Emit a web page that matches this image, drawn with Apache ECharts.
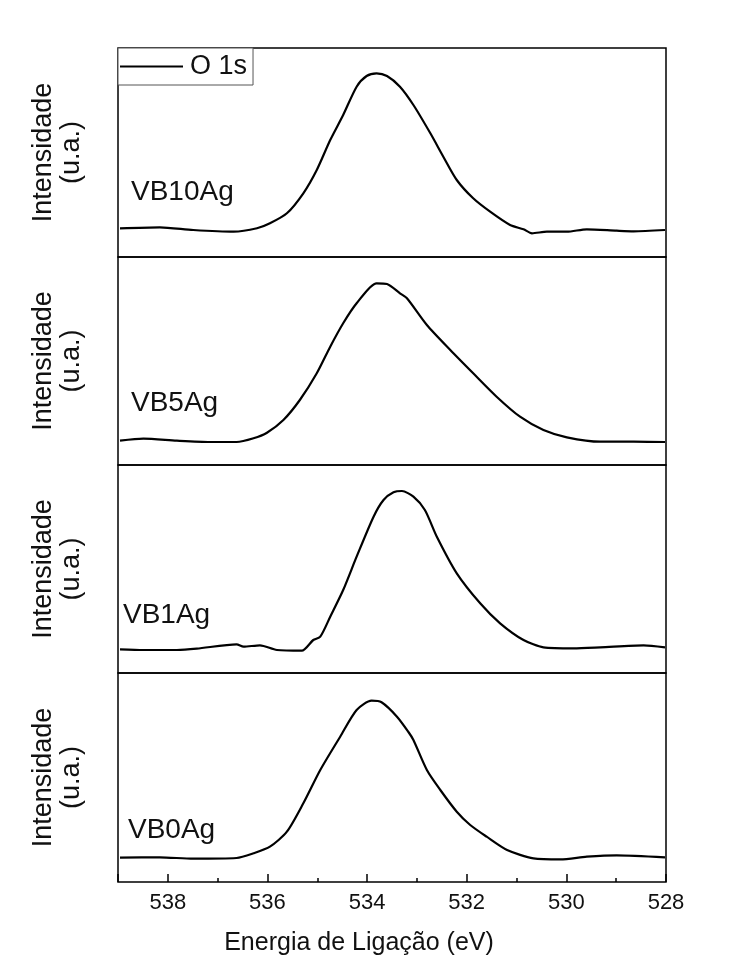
<!DOCTYPE html>
<html>
<head>
<meta charset="utf-8">
<script src="https://cdn.jsdelivr.net/npm/echarts@6/dist/echarts.min.js"></script>
<style>
  html, body { margin: 0; padding: 0; background: #fff; }
  #chart { width: 732px; height: 980px; }
</style>
</head>
<body>
<div id="chart"></div>
<script>
  // binding energy (eV) / intensity (a.u.)
  const vb10Energy = [538.96, 538.16, 537.49, 536.68, 536.21, 535.95, 535.61, 535.28, 535.01, 534.74, 534.48, 534.21, 534.01, 533.81, 533.60, 533.34, 533.07, 532.73, 532.47, 532.20, 531.87, 531.53, 531.13, 530.86, 530.69, 530.39, 529.99, 529.59, 528.99, 528.65, 528.02]
  const vb10Intensity = [28.7, 29.7, 27, 25.3, 28.7, 33.7, 43.7, 63.7, 87, 117, 142, 170.3, 181, 183.7, 181, 170.3, 152, 123.7, 100.3, 77, 58.7, 45.3, 32, 27.7, 23.7, 25.3, 25.3, 27.7, 26.3, 25.7, 27]

  const vb5Energy = [538.96, 538.49, 537.82, 537.15, 536.62, 536.28, 536.01, 535.68, 535.35, 535.01, 534.74, 534.48, 534.21, 533.81, 533.60, 533.34, 533.20, 532.80, 532.33, 531.87, 531.40, 530.93, 530.46, 529.99, 529.32, 528.65, 528.02]
  const vb5Intensity = [24.3, 26.3, 24.3, 23, 23, 26.7, 32.3, 45, 65, 91.7, 118.3, 141.7, 161.7, 181.7, 181, 171.7, 166.7, 140, 115, 91.7, 68.3, 48.3, 35, 27.7, 23.3, 23.3, 23]

  const vb1Energy = [538.96, 538.49, 537.82, 537.42, 536.62, 536.48, 536.15, 535.81, 535.31, 535.08, 534.94, 534.74, 534.48, 534.21, 533.87, 533.67, 533.47, 533.30, 533.07, 532.84, 532.60, 532.20, 531.73, 531.33, 530.86, 530.46, 529.86, 529.32, 528.45, 528.02]
  const vb1Intensity = [23.7, 23, 23, 24.3, 28.7, 26.3, 27.7, 23, 22.3, 33, 36.3, 56.3, 83, 116.3, 156.3, 173, 180.7, 182, 176.3, 163, 136.3, 99.7, 69.7, 49.7, 33, 25.7, 24.7, 25.7, 27.7, 25.7]

  const vb0Energy = [538.96, 538.16, 537.49, 536.62, 536.28, 535.95, 535.61, 535.28, 534.94, 534.54, 534.21, 533.91, 533.71, 533.40, 533.17, 533.07, 532.80, 532.53, 532.20, 531.93, 531.60, 531.19, 530.66, 530.12, 529.59, 528.99, 528.02]
  const vb0Intensity = [24.3, 24.7, 23.3, 24, 28.7, 35.3, 50.3, 78.7, 112, 145.3, 172, 181.3, 179.7, 165.3, 150, 142, 112, 92, 70.3, 57, 45.3, 32, 23.7, 22.7, 25.3, 26.7, 24.7]

  const samples = ['VB10Ag', 'VB5Ag', 'VB1Ag', 'VB0Ag']
  const energies = [vb10Energy, vb5Energy, vb1Energy, vb0Energy]
  const intensities = [vb10Intensity, vb5Intensity, vb1Intensity, vb0Intensity]
  const xTickLabels = [538, 536, 534, 532, 530, 528]

  const FONT = "'Liberation Sans', Arial, sans-serif"

  // panel boxes (px)
  const panelTop = [48, 257, 465, 673]
  const panelHeight = [209, 208, 208, 209]
  const labelPos = [[131, 192], [131, 403], [123, 615], [128, 830]]

  const chart = echarts.init(document.getElementById('chart'))

  const grids = [], xAxes = [], yAxes = [], series = [], texts = []
  samples.forEach((name, i) => {
    const last = i === samples.length - 1
    grids.push({
      left: 118,
      width: 548,
      top: panelTop[i],
      height: panelHeight[i],
      show: true,
      borderColor: '#000',
      borderWidth: 1.5,
      backgroundColor: 'transparent'
    })
    xAxes.push({
      type: 'value',
      gridIndex: i,
      min: 528,
      max: 539,
      interval: 2,
      inverse: true,
      axisLine: {show: false},
      splitLine: {show: false},
      axisTick: {show: last, inside: true, length: 8, lineStyle: {color: '#000', width: 1.5}},
      minorTick: {show: last, splitNumber: 2, length: 4, lineStyle: {color: '#000', width: 1.5}},
      axisLabel: {
        show: last,
        margin: 10,
        color: '#111',
        fontSize: 22,
        fontFamily: FONT,
        showMaxLabel: false,
        formatter: v => xTickLabels.indexOf(v) >= 0 ? String(v) : ''
      },
      name: last ? 'Energia de Ligação (eV)' : '',
      nameLocation: 'middle',
      nameGap: 49,
      nameTextStyle: {color: '#111', fontSize: 25, fontFamily: FONT, padding: [0, 66, 0, 0]}
    })
    yAxes.push({
      type: 'value',
      gridIndex: i,
      min: 0,
      max: panelHeight[i],
      axisLine: {show: false},
      axisTick: {show: false},
      axisLabel: {show: false},
      splitLine: {show: false},
      name: 'Intensidade\n(u.a.)',
      nameLocation: 'middle',
      nameRotate: 90,
      nameGap: 32,
      nameTextStyle: {color: '#111', fontSize: 27, lineHeight: 28, fontFamily: FONT, align: 'center'}
    })
    series.push({
      name: 'O 1s',
      type: 'line',
      xAxisIndex: i,
      yAxisIndex: i,
      data: energies[i].map((e, k) => [e, intensities[i][k]]),
      symbol: 'none',
      smooth: 0.25,
      lineStyle: {color: '#000', width: 2.2},
      itemStyle: {color: '#000'},
      animation: false
    })
    texts.push({
      type: 'text',
      x: labelPos[i][0],
      y: labelPos[i][1],
      style: {text: name, fill: '#111', fontSize: 28, fontFamily: FONT, verticalAlign: 'middle'}
    })
  })

  chart.setOption({
    backgroundColor: '#fff',
    animation: false,
    legend: {
      data: [{name: 'O 1s', icon: 'rect'}],
      left: 118,
      top: 48,
      padding: [5, 6, 5, 2],
      backgroundColor: '#fff',
      borderColor: '#555',
      borderWidth: 1,
      borderRadius: 0,
      itemWidth: 63,
      itemHeight: 2,
      itemGap: 0,
      selectedMode: false,
      itemStyle: {color: '#000'},
      textStyle: {color: '#111', fontSize: 27, fontFamily: FONT, padding: [0, 0, 0, 2]}
    },
    grid: grids,
    xAxis: xAxes,
    yAxis: yAxes,
    series: series,
    graphic: texts
  })
</script>
</body>
</html>
